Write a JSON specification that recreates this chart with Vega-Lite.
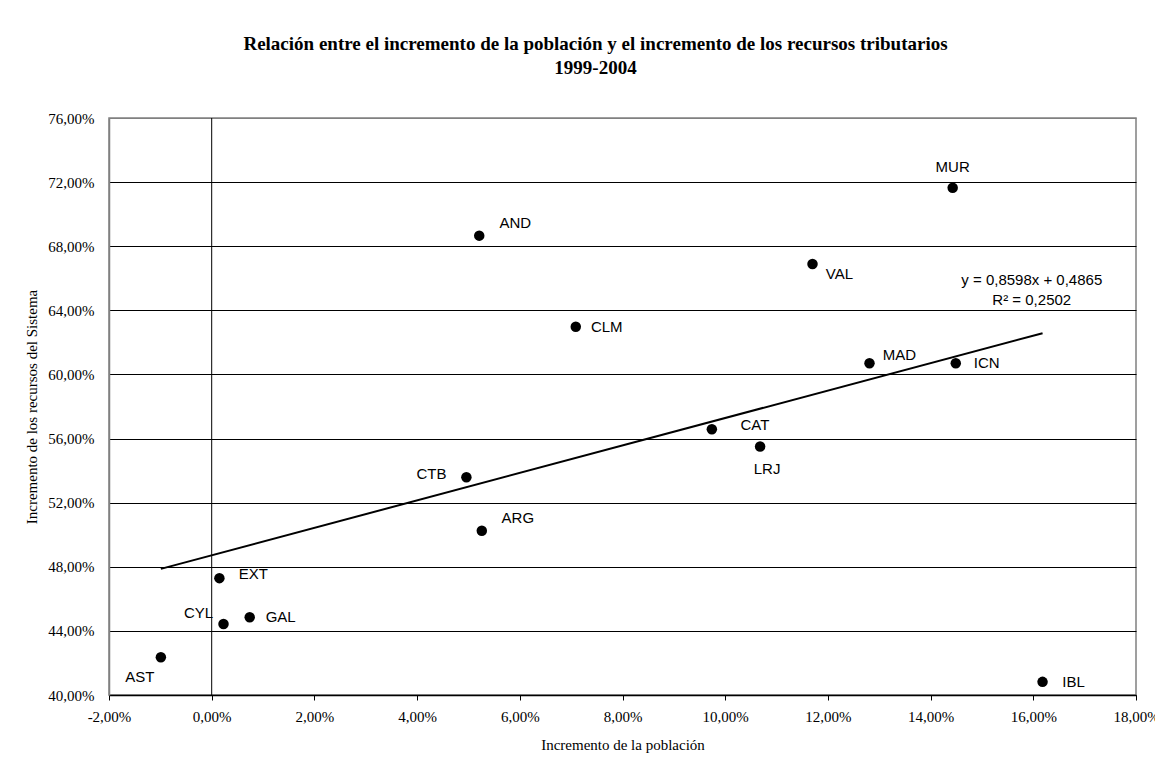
{
  "$schema": "https://vega.github.io/schema/vega-lite/v6.json",
  "width": 1027,
  "height": 577,
  "autosize": {"type": "none"},
  "padding": {"left": 109, "top": 118, "right": 19, "bottom": 67},
  "background": "white",
  "config": {
    "locale": {"number": {"decimal": ",", "thousands": ".", "grouping": [3], "currency": ["", " €"], "minus": "-"}},
    "view": {"stroke": "#808080", "strokeWidth": 1.5},
    "font": "Liberation Serif"
  },
  "title": {
    "text": ["Relación entre el incremento de la población y el incremento de los recursos tributarios", "1999-2004"],
    "font": "Liberation Serif",
    "fontSize": 19,
    "fontWeight": "bold",
    "color": "black",
    "anchor": "middle",
    "dx": -27,
    "offset": 33,
    "lineHeight": 24
  },
  "datasets": {
    "pts": [
      {"ccaa": "MUR", "x": 0.1443, "y": 0.7165},
      {"ccaa": "AND", "x": 0.0521, "y": 0.6866},
      {"ccaa": "VAL", "x": 0.1170, "y": 0.6689},
      {"ccaa": "CLM", "x": 0.0709, "y": 0.6298},
      {"ccaa": "MAD", "x": 0.1281, "y": 0.6070},
      {"ccaa": "ICN", "x": 0.1449, "y": 0.6070},
      {"ccaa": "CAT", "x": 0.0974, "y": 0.5658},
      {"ccaa": "LRJ", "x": 0.1068, "y": 0.5550},
      {"ccaa": "CTB", "x": 0.0496, "y": 0.5359},
      {"ccaa": "ARG", "x": 0.0526, "y": 0.5025},
      {"ccaa": "EXT", "x": 0.0015, "y": 0.4729},
      {"ccaa": "CYL", "x": 0.0023, "y": 0.4443},
      {"ccaa": "GAL", "x": 0.0074, "y": 0.4485},
      {"ccaa": "AST", "x": -0.0099, "y": 0.4236},
      {"ccaa": "IBL", "x": 0.1618, "y": 0.4082}
    ]
  },
  "data": {"name": "pts"},
  "layer": [
    {
      "data": {"values": [{}]},
      "mark": {"type": "rule", "color": "black", "strokeWidth": 1},
      "encoding": {"x": {"datum": 0, "type": "quantitative"}}
    },
    {
      "mark": {"type": "circle", "color": "black", "size": 110, "opacity": 1},
      "encoding": {
        "x": {
          "field": "x", "type": "quantitative",
          "scale": {"domain": [-0.02, 0.18], "nice": false, "zero": false},
          "axis": {
            "format": ".2%",
            "values": [-0.02, 0, 0.02, 0.04, 0.06, 0.08, 0.1, 0.12, 0.14, 0.16, 0.18],
            "grid": false,
            "domainColor": "black",
            "domainWidth": 1.5,
            "tickColor": "black",
            "tickSize": 5,
            "labelPadding": 9,
            "labelFont": "Liberation Serif",
            "labelFontSize": 15,
            "labelColor": "black",
            "labelFlush": false,
            "labelOverlap": false,
            "title": "Incremento de la población",
            "titleFont": "Liberation Serif",
            "titleFontSize": 15,
            "titleFontWeight": "normal",
            "titleColor": "black",
            "titlePadding": 13
          }
        },
        "y": {
          "field": "y", "type": "quantitative",
          "scale": {"domain": [0.40, 0.76], "nice": false, "zero": false},
          "axis": {
            "format": ".2%",
            "values": [0.40, 0.44, 0.48, 0.52, 0.56, 0.60, 0.64, 0.68, 0.72, 0.76],
            "grid": true,
            "gridColor": {"condition": {"test": "datum.value >= 0.759", "value": "#808080"}, "value": "black"},
            "gridWidth": 1,
            "domainColor": "#808080",
            "domainWidth": 1.5,
            "ticks": false,
            "labelPadding": 15,
            "labelFont": "Liberation Serif",
            "labelFontSize": 15,
            "labelColor": "black",
            "labelOverlap": false,
            "title": "Incremento de los recursos del Sistema",
            "titleFont": "Liberation Serif",
            "titleFontSize": 15,
            "titleFontWeight": "normal",
            "titleColor": "black",
            "titlePadding": 8
          }
        }
      }
    },
    {
      "transform": [{"regression": "y", "on": "x", "method": "linear"}],
      "mark": {"type": "line", "color": "black", "strokeWidth": 2},
      "encoding": {
        "x": {"field": "x", "type": "quantitative"},
        "y": {"field": "y", "type": "quantitative"}
      }
    },
    {
      "transform": [{"filter": {"field": "ccaa", "oneOf": ["CLM", "GAL", "IBL", "ICN"]}}],
      "mark": {"type": "text", "font": "Liberation Sans", "fontSize": 15, "color": "black", "align": "center", "baseline": "middle", "dx": 31, "dy": 0},
      "encoding": {"x": {"field": "x", "type": "quantitative"}, "y": {"field": "y", "type": "quantitative"}, "text": {"field": "ccaa"}}
    },
    {
      "transform": [{"filter": {"field": "ccaa", "oneOf": ["EXT"]}}],
      "mark": {"type": "text", "font": "Liberation Sans", "fontSize": 15, "color": "black", "align": "center", "baseline": "middle", "dx": 34, "dy": -4},
      "encoding": {"x": {"field": "x", "type": "quantitative"}, "y": {"field": "y", "type": "quantitative"}, "text": {"field": "ccaa"}}
    },
    {
      "transform": [{"filter": {"field": "ccaa", "oneOf": ["AND", "ARG"]}}],
      "mark": {"type": "text", "font": "Liberation Sans", "fontSize": 15, "color": "black", "align": "center", "baseline": "middle", "dx": 36, "dy": -13},
      "encoding": {"x": {"field": "x", "type": "quantitative"}, "y": {"field": "y", "type": "quantitative"}, "text": {"field": "ccaa"}}
    },
    {
      "transform": [{"filter": {"field": "ccaa", "oneOf": ["CAT"]}}],
      "mark": {"type": "text", "font": "Liberation Sans", "fontSize": 15, "color": "black", "align": "center", "baseline": "middle", "dx": 43, "dy": -4},
      "encoding": {"x": {"field": "x", "type": "quantitative"}, "y": {"field": "y", "type": "quantitative"}, "text": {"field": "ccaa"}}
    },
    {
      "transform": [{"filter": {"field": "ccaa", "oneOf": ["MAD"]}}],
      "mark": {"type": "text", "font": "Liberation Sans", "fontSize": 15, "color": "black", "align": "center", "baseline": "middle", "dx": 30, "dy": -8},
      "encoding": {"x": {"field": "x", "type": "quantitative"}, "y": {"field": "y", "type": "quantitative"}, "text": {"field": "ccaa"}}
    },
    {
      "transform": [{"filter": {"field": "ccaa", "oneOf": ["VAL"]}}],
      "mark": {"type": "text", "font": "Liberation Sans", "fontSize": 15, "color": "black", "align": "center", "baseline": "middle", "dx": 27, "dy": 10},
      "encoding": {"x": {"field": "x", "type": "quantitative"}, "y": {"field": "y", "type": "quantitative"}, "text": {"field": "ccaa"}}
    },
    {
      "transform": [{"filter": {"field": "ccaa", "oneOf": ["MUR"]}}],
      "mark": {"type": "text", "font": "Liberation Sans", "fontSize": 15, "color": "black", "align": "center", "baseline": "middle", "dx": 0, "dy": -21},
      "encoding": {"x": {"field": "x", "type": "quantitative"}, "y": {"field": "y", "type": "quantitative"}, "text": {"field": "ccaa"}}
    },
    {
      "transform": [{"filter": {"field": "ccaa", "oneOf": ["LRJ"]}}],
      "mark": {"type": "text", "font": "Liberation Sans", "fontSize": 15, "color": "black", "align": "center", "baseline": "middle", "dx": 7, "dy": 22},
      "encoding": {"x": {"field": "x", "type": "quantitative"}, "y": {"field": "y", "type": "quantitative"}, "text": {"field": "ccaa"}}
    },
    {
      "transform": [{"filter": {"field": "ccaa", "oneOf": ["CTB"]}}],
      "mark": {"type": "text", "font": "Liberation Sans", "fontSize": 15, "color": "black", "align": "center", "baseline": "middle", "dx": -35, "dy": -3},
      "encoding": {"x": {"field": "x", "type": "quantitative"}, "y": {"field": "y", "type": "quantitative"}, "text": {"field": "ccaa"}}
    },
    {
      "transform": [{"filter": {"field": "ccaa", "oneOf": ["CYL"]}}],
      "mark": {"type": "text", "font": "Liberation Sans", "fontSize": 15, "color": "black", "align": "center", "baseline": "middle", "dx": -25, "dy": -11},
      "encoding": {"x": {"field": "x", "type": "quantitative"}, "y": {"field": "y", "type": "quantitative"}, "text": {"field": "ccaa"}}
    },
    {
      "transform": [{"filter": {"field": "ccaa", "oneOf": ["AST"]}}],
      "mark": {"type": "text", "font": "Liberation Sans", "fontSize": 15, "color": "black", "align": "center", "baseline": "middle", "dx": -21, "dy": 20},
      "encoding": {"x": {"field": "x", "type": "quantitative"}, "y": {"field": "y", "type": "quantitative"}, "text": {"field": "ccaa"}}
    },
    {
      "data": {"values": [{}]},
      "mark": {"type": "text", "text": "y = 0,8598x + 0,4865", "font": "Liberation Sans", "fontSize": 15, "color": "black", "align": "center", "baseline": "middle"},
      "encoding": {"x": {"datum": 0.1597, "type": "quantitative"}, "y": {"datum": 0.6589, "type": "quantitative"}}
    },
    {
      "data": {"values": [{}]},
      "mark": {"type": "text", "text": "R² = 0,2502", "font": "Liberation Sans", "fontSize": 15, "color": "black", "align": "center", "baseline": "middle"},
      "encoding": {"x": {"datum": 0.1597, "type": "quantitative"}, "y": {"datum": 0.6465, "type": "quantitative"}}
    }
  ]
}
